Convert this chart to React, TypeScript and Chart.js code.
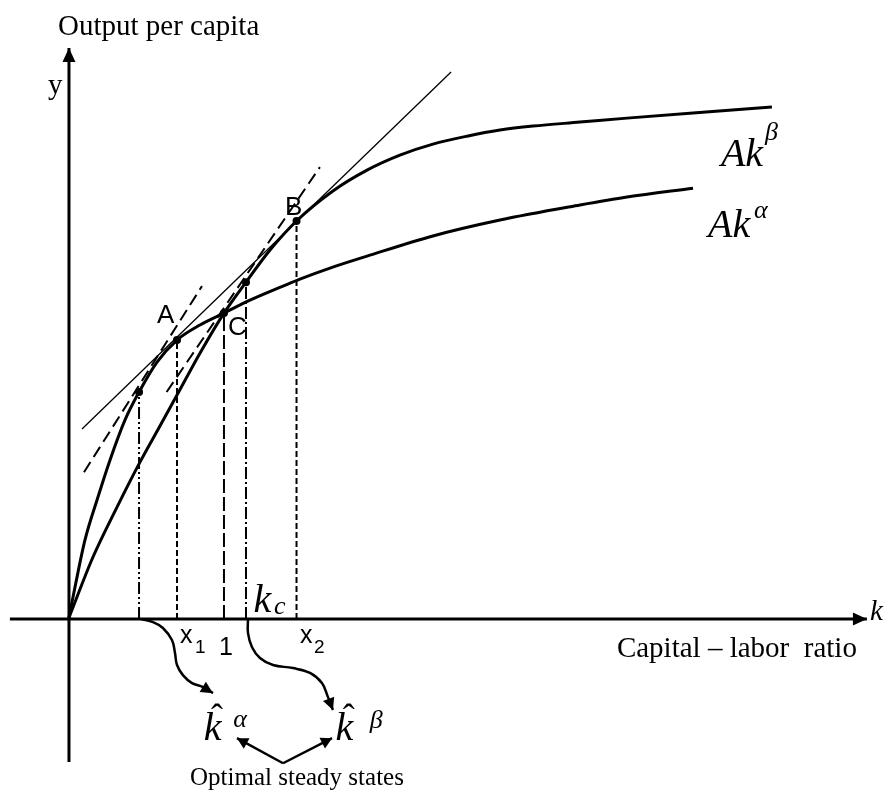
import { useEffect, useRef } from "react";
import { Chart, registerables } from "chart.js";

Chart.register(...registerables);

// ---- scale extents (k on x, output per capita on y) ----
const X_MIN = -0.445;
const X_MAX = 5.284;
const Y_MIN = -0.578;
const Y_MAX = 2.023;

// ---- Ak^alpha curve ----
const alphaK = [0, 0.039, 0.103, 0.181, 0.265, 0.361, 0.452, 0.568, 0.697, 0.845, 1, 1.168, 1.381, 1.49, 1.684, 1.923, 2.348, 2.781, 3.297, 3.6, 4.026];
const alphaY = [0.005, 0.105, 0.258, 0.389, 0.52, 0.65, 0.742, 0.84, 0.912, 0.961, 1, 1.042, 1.088, 1.111, 1.147, 1.186, 1.252, 1.304, 1.353, 1.379, 1.408];

// ---- Ak^beta curve ----
const betaK = [0, 0.155, 0.31, 0.458, 0.587, 0.697, 0.845, 1, 1.142, 1.297, 1.468, 1.703, 1.923, 2.135, 2.348, 2.568, 2.781, 2.994, 3.297, 3.6, 4.026, 4.535];
const betaY = [0.005, 0.203, 0.366, 0.513, 0.631, 0.732, 0.869, 1, 1.101, 1.206, 1.301, 1.399, 1.467, 1.516, 1.552, 1.578, 1.598, 1.611, 1.624, 1.637, 1.654, 1.673];

// ---- straight lines ----
const tangentK = [0.084, 2.465];
const tangentY = [0.621, 1.788];
const dashAK = [0.097, 0.858];
const dashAY = [0.48, 1.088];
const dashBK = [0.63, 1.619];
const dashBY = [0.742, 1.477];

// ---- marked points (dots) and their drop lines ----
const markK = [0.452, 0.697, 1, 1.142, 1.468];
const markY = [0.742, 0.912, 1, 1.101, 1.301];

// ---- axes ----
const xAxisK = [-0.381, 5.148];
const xAxisY = [0, 0];
const yAxisK = [0, 0];
const yAxisY = [-0.467, 1.866];

// ---- curved arrows below the axis ----
const arrowAlphaK = [0.465, 0.542, 0.606, 0.665, 0.684, 0.697, 0.735, 0.794, 0.865, 0.929];
const arrowAlphaY = [0, -0.01, -0.029, -0.069, -0.111, -0.15, -0.183, -0.209, -0.222, -0.242];
const arrowBetaK = [1.155, 1.155, 1.181, 1.232, 1.316, 1.445, 1.555, 1.632, 1.671, 1.703];
const arrowBetaY = [0, -0.046, -0.092, -0.127, -0.15, -0.16, -0.176, -0.209, -0.255, -0.297];

// ---- "Optimal steady states" double arrow ----
const steadyK = [1.084, 1.381, 1.697];
const steadyY = [-0.389, -0.471, -0.389];

const SERIF = '"Liberation Serif", "Times New Roman", serif';
const SANS = '"Liberation Sans", Arial, sans-serif';

type Lbl = { t: string; k: number; y: number; f: string; a?: CanvasTextAlign };
const labels: Lbl[] = [
  { t: "Output per capita", k: -0.071, y: 1.908, f: `29px ${SERIF}` },
  { t: "y", k: -0.135, y: 1.716, f: `29px ${SERIF}` },
  { t: "k", k: 5.168, y: -0.003, f: `italic 29px ${SERIF}` },
  { t: "Capital \u2013 labor  ratio", k: 3.535, y: -0.124, f: `29px ${SERIF}` },
  { t: "A", k: 0.568, y: 0.967, f: `26px ${SANS}` },
  { t: "C", k: 1.026, y: 0.928, f: `26px ${SANS}` },
  { t: "B", k: 1.394, y: 1.32, f: `26px ${SANS}` },
  { t: "x", k: 0.716, y: -0.078, f: `25px ${SANS}` },
  { t: "1", k: 0.813, y: -0.111, f: `19px ${SANS}` },
  { t: "1", k: 0.968, y: -0.118, f: `25px ${SANS}` },
  { t: "x", k: 1.49, y: -0.078, f: `25px ${SANS}` },
  { t: "2", k: 1.581, y: -0.111, f: `19px ${SANS}` },
  { t: "k", k: 1.19, y: 0.023, f: `italic 40px ${SERIF}` },
  { t: "c", k: 1.323, y: 0.017, f: `italic 26px ${SERIF}` },
  { t: "Ak", k: 4.206, y: 1.48, f: `italic 40px ${SERIF}` },
  { t: "\u03B2", k: 4.49, y: 1.565, f: `italic 26px ${SERIF}` },
  { t: "Ak", k: 4.123, y: 1.248, f: `italic 40px ${SERIF}` },
  { t: "\u03B1", k: 4.42, y: 1.31, f: `italic 26px ${SERIF}` },
  { t: "k", k: 0.87, y: -0.395, f: `italic 40px ${SERIF}` },
  { t: "\u02C6", k: 0.955, y: -0.36, f: `36px ${SERIF}`, a: "center" },
  { t: "\u03B1", k: 1.06, y: -0.353, f: `italic 26px ${SERIF}` },
  { t: "k", k: 1.72, y: -0.395, f: `italic 40px ${SERIF}` },
  { t: "\u02C6", k: 1.805, y: -0.36, f: `36px ${SERIF}`, a: "center" },
  { t: "\u03B2", k: 1.94, y: -0.356, f: `italic 26px ${SERIF}` },
  { t: "Optimal steady states", k: 1.471, y: -0.542, f: `25px ${SERIF}`, a: "center" },
];

const pts = (ks: number[], ys: number[]) => ks.map((k, i) => ({ x: k, y: ys[i] }));

const base = { borderColor: "#000", backgroundColor: "#000", pointRadius: 0, fill: false, tension: 0 };

const dropDashes = [[12, 3, 2, 3, 2, 3], [6, 3], [14, 4], [12, 3, 2, 3], [6, 3]];

const datasets: any[] = [
  { ...base, data: pts(xAxisK, xAxisY), borderWidth: 3 }, // 0
  { ...base, data: pts(yAxisK, yAxisY), borderWidth: 3 }, // 1
  { ...base, data: pts(alphaK, alphaY), borderWidth: 3, cubicInterpolationMode: "monotone" }, // 2
  { ...base, data: pts(betaK, betaY), borderWidth: 3, cubicInterpolationMode: "monotone" }, // 3
  { ...base, data: pts(tangentK, tangentY), borderWidth: 1.3 }, // 4
  { ...base, data: pts(dashAK, dashAY), borderWidth: 2, borderDash: [12, 6] }, // 5
  { ...base, data: pts(dashBK, dashBY), borderWidth: 2, borderDash: [12, 6] }, // 6
  ...markK.map((k, i) => ({
    ...base,
    data: [{ x: k, y: 0 }, { x: k, y: markY[i] }],
    borderWidth: 2,
    borderDash: dropDashes[i],
  })), // 7..11
  { ...base, data: pts(arrowAlphaK, arrowAlphaY), borderWidth: 2.5, tension: 0.4 }, // 12
  { ...base, data: pts(arrowBetaK, arrowBetaY), borderWidth: 2.5, tension: 0.4 }, // 13
  { ...base, data: [{ x: steadyK[1], y: steadyY[1] }, { x: steadyK[0], y: steadyY[0] }], borderWidth: 2.5 }, // 14
  { ...base, data: [{ x: steadyK[1], y: steadyY[1] }, { x: steadyK[2], y: steadyY[2] }], borderWidth: 2.5 }, // 15
  { ...base, data: pts(markK, markY), showLine: false, pointRadius: 4, pointBackgroundColor: "#000", pointBorderWidth: 0 }, // 16
];

const arrowHeads = [
  { ds: 0, len: 14, half: 6.5 },
  { ds: 1, len: 14, half: 6.5 },
  { ds: 12, len: 12, half: 6 },
  { ds: 13, len: 12, half: 6 },
  { ds: 14, len: 11, half: 6 },
  { ds: 15, len: 11, half: 6 },
];

const annotate = {
  id: "annotate",
  afterDatasetsDraw(chart: any) {
    const { ctx } = chart;
    const xs = chart.scales.x;
    const ys = chart.scales.y;
    ctx.save();
    ctx.fillStyle = "#000";
    for (const a of arrowHeads) {
      const els = chart.getDatasetMeta(a.ds).data;
      const p = els[els.length - 1];
      const q = els[els.length - 2];
      const ang = Math.atan2(p.y - q.y, p.x - q.x);
      const c = Math.cos(ang);
      const s = Math.sin(ang);
      ctx.beginPath();
      ctx.moveTo(p.x, p.y);
      ctx.lineTo(p.x - a.len * c + a.half * s, p.y - a.len * s - a.half * c);
      ctx.lineTo(p.x - a.len * c - a.half * s, p.y - a.len * s + a.half * c);
      ctx.closePath();
      ctx.fill();
    }
    ctx.textBaseline = "alphabetic";
    for (const l of labels) {
      ctx.font = l.f;
      ctx.textAlign = l.a || "left";
      ctx.fillText(l.t, xs.getPixelForValue(l.k), ys.getPixelForValue(l.y));
    }
    ctx.restore();
  },
};

export default function App() {
  const ref = useRef<HTMLCanvasElement>(null);
  useEffect(() => {
    if (!ref.current) return;
    const chart = new Chart(ref.current, {
      type: "line",
      data: { datasets },
      options: {
        animation: false,
        responsive: false,
        maintainAspectRatio: false,
        layout: { padding: 0, autoPadding: false },
        plugins: { legend: { display: false }, tooltip: { enabled: false } },
        scales: {
          x: { type: "linear", min: X_MIN, max: X_MAX, display: false },
          y: { type: "linear", min: Y_MIN, max: Y_MAX, display: false },
        },
      },
      plugins: [annotate],
    } as any);
    return () => chart.destroy();
  }, []);
  return (
    <div style={{ position: "fixed", left: 0, top: 0, width: 888, height: 796, background: "#fff" }}>
      <canvas ref={ref} width={888} height={796} style={{ display: "block", width: 888, height: 796 }} />
    </div>
  );
}
